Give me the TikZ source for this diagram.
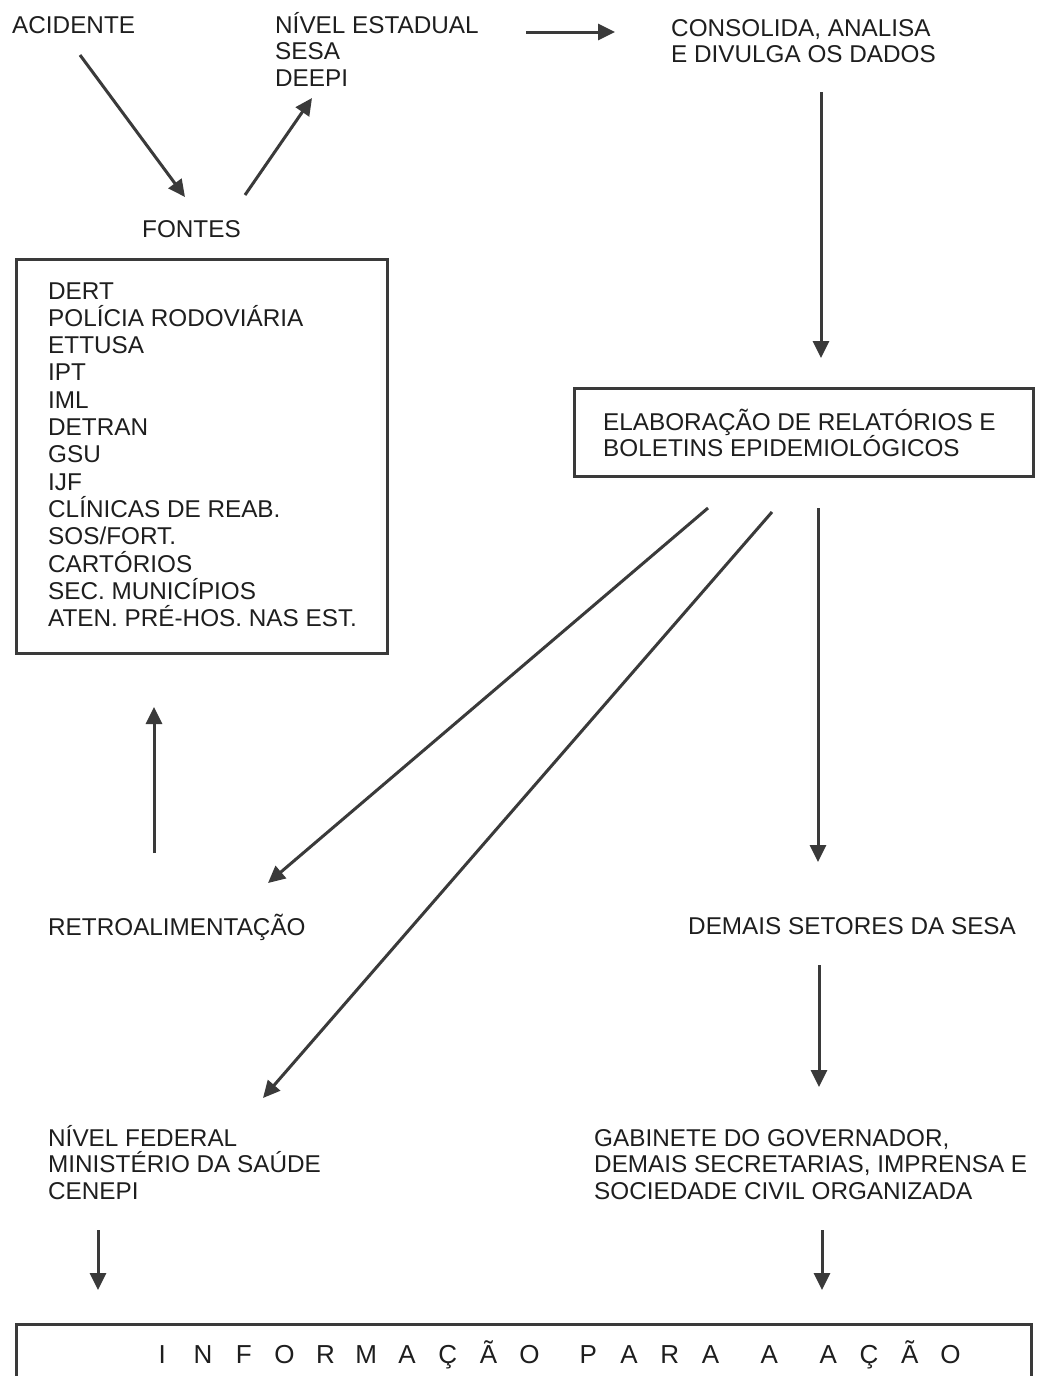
\documentclass[tikz,border=0pt]{standalone}
\usepackage{fontspec}
\setmainfont{Liberation Sans}
\usetikzlibrary{arrows.meta}
\definecolor{ink}{HTML}{1E1E1E}
\definecolor{lin}{HTML}{3A3A3A}
\newcommand\infl[1]{\makebox[40.8pt][c]{#1}}
\newcommand\infgap{\hspace{18pt}}
\tikzset{
  lbl/.style={inner sep=0pt, anchor=base west, align=left, text=ink,
              font=\fontsize{24.3}{26.7}\selectfont},
  arr/.style={draw=lin, line width=3pt, -{Triangle[length=17pt,width=16pt]}},
  boxline/.style={draw=lin, line width=3pt, inner sep=0pt, anchor=north west},
}
\begin{document}
\begin{tikzpicture}[x=1pt,y=-1pt]
\useasboundingbox (0,0) rectangle (1039,1376);
\clip (0,0) rectangle (1039,1376);
\fill[white] (0,0) rectangle (1039,1376);

% text nodes (base anchor = baseline of the last line)
\node[lbl] (acid) at (12,33) {ACIDENTE};
\node[lbl] (est) at (275,86.4) {NÍVEL ESTADUAL\\SESA\\DEEPI};
\node[lbl] (cons) at (671,62.7) {CONSOLIDA, ANALISA\\E DIVULGA OS DADOS};
\node[lbl] (fontes) at (142,237) {FONTES};

% sources box
\node[boxline, minimum width=371pt, minimum height=394pt] (fbox) at (15,258) {};
\node[lbl, font=\fontsize{24.3}{27.3}\selectfont] (flist) at (48,626.6)
  {DERT\\POLÍCIA RODOVIÁRIA\\ETTUSA\\IPT\\IML\\DETRAN\\GSU\\IJF\\CLÍNICAS DE REAB.\\SOS/FORT.\\CARTÓRIOS\\SEC. MUNICÍPIOS\\ATEN. PRÉ-HOS. NAS EST.};

% reports box
\node[boxline, minimum width=459pt, minimum height=88pt] (ebox) at (573,387) {};
\node[lbl] (elab) at (603,456.7) {ELABORAÇÃO DE RELATÓRIOS E\\BOLETINS EPIDEMIOLÓGICOS};

\node[lbl] (retro) at (48,935) {RETROALIMENTAÇÃO};
\node[lbl] (demais) at (688,934) {DEMAIS SETORES DA SESA};
\node[lbl] (fed) at (48,1199.4) {NÍVEL FEDERAL\\MINISTÉRIO DA SAÚDE\\CENEPI};
\node[lbl] (gab) at (594,1199.4) {GABINETE DO GOVERNADOR,\\DEMAIS SECRETARIAS, IMPRENSA E\\SOCIEDADE CIVIL ORGANIZADA};

% bottom box
\node[boxline, minimum width=1015pt, minimum height=90pt] (ibox) at (15,1323) {};
\node[lbl, font=\fontsize{26}{28}\selectfont] (info) at (141.6,1363)
  {\infl{I}\infl{N}\infl{F}\infl{O}\infl{R}\infl{M}\infl{A}\infl{Ç}\infl{Ã}\infl{O}\infgap\infl{P}\infl{A}\infl{R}\infl{A}\infgap\infl{A}\infgap\infl{A}\infl{Ç}\infl{Ã}\infl{O}};

% connector end points
\coordinate (a1s) at (80,55);   \coordinate (a1e) at (185,197);
\coordinate (a2s) at (245,195); \coordinate (a2e) at (312,98);
\coordinate (a3s) at (526,32);  \coordinate (a3e) at (615,32);
\coordinate (a4s) at (821,92);  \coordinate (a4e) at (821,358);
\coordinate (a5s) at (708,508); \coordinate (a5e) at (268,883);
\coordinate (a6s) at (772,512); \coordinate (a6e) at (263,1098);
\coordinate (a7s) at (818,508); \coordinate (a7e) at (818,862);
\coordinate (a8s) at (819,965); \coordinate (a8e) at (819,1087);
\coordinate (a9s) at (154,853); \coordinate (a9e) at (154,707);
\coordinate (a10s) at (98,1230); \coordinate (a10e) at (98,1290);
\coordinate (a11s) at (822,1230); \coordinate (a11e) at (822,1290);

\draw[arr] (a1s) -- (a1e);
\draw[arr] (a2s) -- (a2e);
\draw[arr] (a3s) -- (a3e);
\draw[arr] (a4s) -- (a4e);
\draw[arr] (a5s) -- (a5e);
\draw[arr] (a6s) -- (a6e);
\draw[arr] (a7s) -- (a7e);
\draw[arr] (a8s) -- (a8e);
\draw[arr] (a9s) -- (a9e);
\draw[arr] (a10s) -- (a10e);
\draw[arr] (a11s) -- (a11e);
\end{tikzpicture}
\end{document}
